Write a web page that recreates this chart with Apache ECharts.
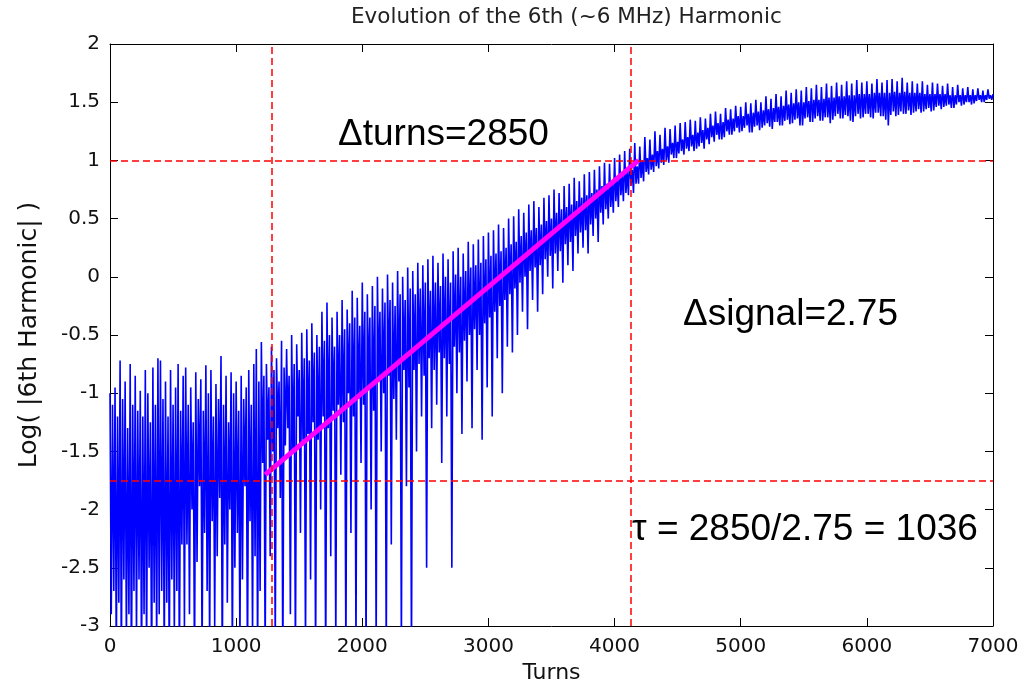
<!DOCTYPE html>
<html>
<head>
<meta charset="utf-8">
<title>Evolution of the 6th (~6 MHz) Harmonic</title>
<script src="https://cdn.jsdelivr.net/npm/echarts@6.0.0/dist/echarts.min.js"></script>
<style>
  html, body { margin: 0; padding: 0; background: #fff; }
  #chart { width: 1028px; height: 681px; }
</style>
</head>
<body>
<div id="chart"></div>
<script>
// Sample spacing of the harmonic record, in turns
const TURN_STEP = 10;

// log10 of the 6th-harmonic amplitude, one value every TURN_STEP turns (0 … 7000)
const harmonicLog = [
  // 0–190
  -1.0, -2.9, -1.1, -2.7, -0.95, -3.3, -1.2, -2.8, -0.72, -3.4, -1.05, -2.6, -0.9, -3.2, -1.3, -2.9, -0.75, -3.5, -1.1, -2.7,
  // 200–390
  -0.85, -3.1, -1.15, -2.6, -0.98, -3.4, -1.2, -2.9, -0.8, -3.3, -1.0, -2.5, -1.25, -3.5, -0.78, -2.8, -1.1, -3.2, -0.7, -2.9,
  // 400–590
  -0.72, -2.7, -1.05, -3.3, -0.9, -2.8, -1.2, -3.4, -0.8, -2.6, -1.1, -3.1, -0.95, -2.7, -0.75, -3.4, -1.15, -2.3, -0.85, -3.0,
  // 600–790
  -0.78, -2.3, -1.1, -2.9, -0.95, -2.0, -1.25, -3.4, -0.82, -2.45, -1.05, -1.8, -0.88, -3.3, -1.15, -2.2, -0.76, -2.7, -1.0, -3.2,
  // 800–990
  -0.8, -2.1, -1.2, -3.0, -0.92, -2.4, -1.05, -1.9, -0.68, -3.4, -1.1, -2.3, -0.85, -2.8, -1.25, -2.0, -0.82, -3.3, -1.0, -2.5,
  // 1000–1190
  -0.9, -2.2, -1.15, -3.2, -0.85, -2.6, -1.05, -1.8, -0.95, -3.4, -0.8, -2.1, -1.1, -3.1, -0.75, -2.4, -0.62, -3.3, -0.9, -2.7,
  // 1200–1390
  -0.56, -1.6, -0.85, -3.3, -0.75, -1.4, -0.95, -2.4, -0.6, -1.5, -0.8, -3.2, -0.7, -1.3, -0.9, -1.9, -0.55, -3.4, -0.78, -1.45,
  // 1400–1590
  -0.62, -1.3, -0.85, -2.9, -0.5, -1.5, -0.75, -3.3, -0.58, -1.2, -0.8, -2.2, -0.48, -1.4, -0.7, -3.2, -0.45, -1.35, -0.72, -2.6,
  // 1600–1790
  -0.4, -1.25, -0.65, -3.3, -0.5, -1.4, -0.6, -2.0, -0.3, -1.2, -0.55, -3.4, -0.22, -1.3, -0.5, -2.4, -0.35, -1.15, -0.6, -3.2,
  // 1800–1990
  -0.3, -1.1, -0.5, -1.7, -0.2, -1.25, -0.45, -3.3, -0.28, -1.0, -0.4, -2.2, -0.12, -1.2, -0.35, -3.2, -0.18, -1.05, -0.42, -1.6,
  // 2000–2190
  -0.05, -1.1, -0.3, -3.3, -0.15, -0.95, -0.35, -2.0, -0.08, -1.15, -0.25, -3.2, 0.0, -0.9, -0.3, -1.5, -0.1, -1.0, -0.22, -3.3,
  // 2200–2390
  0.02, -0.85, -0.2, -2.3, -0.05, -1.05, -0.25, -1.4, 0.05, -0.9, -0.15, -3.2, 0.0, -0.8, -0.2, -1.8, 0.08, -0.95, -0.1, -3.3,
  // 2400–2590
  0.05, -0.8, -0.15, -1.5, 0.12, -0.75, -0.1, -1.2, 0.1, -0.85, -0.05, -2.5, 0.15, -0.7, -0.12, -1.3, 0.18, -0.8, -0.05, -1.1,
  // 2600–2790
  0.12, -0.65, -0.08, -1.6, 0.2, -0.7, 0.0, -1.2, 0.15, -0.75, -0.05, -2.5, 0.22, -0.6, 0.02, -1.0, 0.25, -0.65, 0.0, -1.35,
  // 2800–2990
  0.2, -0.55, 0.05, -0.9, 0.3, -0.5, 0.08, -1.3, 0.28, -0.45, 0.1, -0.8, 0.32, -0.5, 0.12, -1.4, 0.35, -0.4, 0.15, -0.95,
  // 3000–3190
  0.38, -0.35, 0.18, -1.2, 0.4, -0.3, 0.2, -0.7, 0.45, -0.25, 0.22, -1.0, 0.42, -0.2, 0.25, -0.6, 0.5, -0.15, 0.28, -0.65,
  // 3200–3390
  0.52, -0.1, 0.3, -0.5, 0.58, -0.05, 0.35, -0.3, 0.55, 0.0, 0.38, -0.45, 0.62, 0.05, 0.4, -0.2, 0.65, 0.08, 0.42, -0.3,
  // 3400–3590
  0.6, 0.1, 0.45, -0.15, 0.68, 0.15, 0.48, 0.0, 0.7, 0.18, 0.5, -0.1, 0.75, 0.2, 0.55, 0.05, 0.72, 0.22, 0.58, -0.05,
  // 3600–3790
  0.78, 0.28, 0.6, 0.1, 0.8, 0.3, 0.62, 0.05, 0.85, 0.35, 0.65, 0.2, 0.82, 0.38, 0.68, 0.25, 0.88, 0.4, 0.7, 0.2,
  // 3800–3990
  0.9, 0.45, 0.72, 0.35, 0.92, 0.5, 0.75, 0.3, 0.95, 0.55, 0.78, 0.45, 0.98, 0.58, 0.8, 0.5, 0.97, 0.6, 0.82, 0.55,
  // 4000–4190
  1.02, 0.65, 0.85, 0.6, 1.05, 0.7, 0.88, 0.65, 1.08, 0.72, 0.9, 0.7, 1.1, 0.78, 0.92, 0.72, 1.15, 0.8, 0.95, 0.8,
  // 4200–4390
  1.12, 0.85, 1.0, 0.82, 1.2, 0.9, 1.02, 0.88, 1.18, 0.92, 1.05, 0.9, 1.25, 0.95, 1.08, 0.93, 1.22, 0.98, 1.1, 0.96,
  // 4400–4590
  1.28, 1.0, 1.12, 0.98, 1.27, 1.05, 1.15, 1.02, 1.3, 1.02, 1.16, 1.06, 1.32, 1.08, 1.18, 1.05, 1.33, 1.1, 1.2, 1.08,
  // 4600–4790
  1.35, 1.12, 1.22, 1.08, 1.34, 1.1, 1.24, 1.12, 1.37, 1.15, 1.26, 1.1, 1.36, 1.18, 1.28, 1.14, 1.4, 1.2, 1.3, 1.16,
  // 4800–4990
  1.42, 1.22, 1.32, 1.18, 1.4, 1.18, 1.33, 1.2, 1.45, 1.25, 1.35, 1.22, 1.44, 1.22, 1.36, 1.25, 1.47, 1.28, 1.38, 1.24,
  // 5000–5190
  1.46, 1.25, 1.38, 1.28, 1.5, 1.3, 1.4, 1.24, 1.49, 1.24, 1.41, 1.29, 1.52, 1.3, 1.42, 1.26, 1.5, 1.28, 1.43, 1.3,
  // 5200–5390
  1.55, 1.32, 1.44, 1.29, 1.53, 1.27, 1.45, 1.33, 1.57, 1.33, 1.46, 1.3, 1.55, 1.3, 1.47, 1.34, 1.6, 1.35, 1.48, 1.31,
  // 5400–5590
  1.58, 1.32, 1.49, 1.35, 1.61, 1.36, 1.5, 1.3, 1.6, 1.3, 1.5, 1.36, 1.63, 1.37, 1.51, 1.33, 1.62, 1.33, 1.52, 1.36,
  // 5600–5790
  1.65, 1.38, 1.52, 1.34, 1.63, 1.34, 1.53, 1.37, 1.66, 1.37, 1.54, 1.32, 1.64, 1.35, 1.54, 1.38, 1.67, 1.4, 1.55, 1.36,
  // 5800–5990
  1.65, 1.36, 1.55, 1.39, 1.68, 1.38, 1.56, 1.34, 1.66, 1.33, 1.56, 1.38, 1.69, 1.4, 1.57, 1.36, 1.67, 1.37, 1.57, 1.4,
  // 6000–6190
  1.68, 1.4, 1.57, 1.37, 1.66, 1.36, 1.58, 1.41, 1.7, 1.41, 1.58, 1.38, 1.67, 1.38, 1.58, 1.35, 1.69, 1.3, 1.58, 1.39,
  // 6200–6390
  1.7, 1.42, 1.59, 1.38, 1.68, 1.39, 1.58, 1.42, 1.71, 1.4, 1.59, 1.4, 1.67, 1.43, 1.58, 1.39, 1.68, 1.41, 1.58, 1.42,
  // 6400–6590
  1.66, 1.44, 1.58, 1.41, 1.68, 1.42, 1.57, 1.44, 1.65, 1.45, 1.57, 1.42, 1.67, 1.43, 1.57, 1.46, 1.66, 1.47, 1.57, 1.44,
  // 6600–6790
  1.64, 1.46, 1.57, 1.47, 1.66, 1.48, 1.56, 1.45, 1.63, 1.45, 1.56, 1.48, 1.65, 1.5, 1.56, 1.47, 1.62, 1.48, 1.56, 1.5,
  // 6800–6990
  1.63, 1.5, 1.56, 1.48, 1.61, 1.49, 1.56, 1.51, 1.62, 1.52, 1.56, 1.5, 1.6, 1.5, 1.56, 1.52, 1.61, 1.53, 1.56, 1.52,
  // 7000
  1.57
];

// Straight-line fit through the exponential growth phase
const fitTurns = [1230, 4190];
const fitLog = [-1.70, 1.00];

// Reference markers bounding the growth phase
const markerTurns = [1280, 4130];
const markerLog = [1.00, -1.75];

// Axis ticks
const xTicks = [0, 1000, 2000, 3000, 4000, 5000, 6000, 7000];
const yTicks = [-3, -2.5, -2, -1.5, -1, -0.5, 0, 0.5, 1, 1.5, 2];

const turns = harmonicLog.map((_, i) => i * TURN_STEP);
const signalSeries = turns.map((t, i) => [t, harmonicLog[i]]);
const fitSeries = fitTurns.map((t, i) => [t, fitLog[i]]);

const dTurns = markerTurns[1] - markerTurns[0];
const dSignal = markerLog[0] - markerLog[1];
const tau = Math.round(dTurns / dSignal);

const AXIS_FONT = 'DejaVu Sans';
const NOTE_FONT = '"Liberation Sans", Arial, sans-serif';
const TEXT_COLOR = '#111';

const boxAxis = {
  axisLine: { show: true, onZero: false, lineStyle: { color: '#000', width: 1 } },
  axisTick: { show: true, inside: true, length: 8, lineStyle: { color: '#000', width: 1 } },
  splitLine: { show: false }
};

const plainNumber = v => String(v);

const chart = echarts.init(document.getElementById('chart'), null, { renderer: 'canvas' });

chart.setOption({
  animation: false,
  backgroundColor: '#fff',
  title: {
    text: 'Evolution of the 6th (~6 MHz) Harmonic',
    left: 346,
    top: 1,
    textStyle: { fontFamily: AXIS_FONT, fontSize: 21.5, fontWeight: 'normal', color: '#222' }
  },
  grid: { left: 110, right: 35, top: 44, bottom: 55, containLabel: false, outerBoundsMode: 'none' },
  xAxis: [
    Object.assign({}, boxAxis, {
      type: 'value', position: 'bottom',
      min: xTicks[0], max: xTicks[xTicks.length - 1], interval: xTicks[1] - xTicks[0],
      axisLabel: { show: true, margin: 11, color: TEXT_COLOR, fontFamily: AXIS_FONT, fontSize: 20, formatter: plainNumber },
      name: 'Turns', nameLocation: 'middle', nameGap: 36,
      nameTextStyle: { fontFamily: AXIS_FONT, fontSize: 22, color: TEXT_COLOR }
    }),
    Object.assign({}, boxAxis, {
      type: 'value', position: 'top',
      min: xTicks[0], max: xTicks[xTicks.length - 1], interval: xTicks[1] - xTicks[0],
      axisLabel: { show: false }
    })
  ],
  yAxis: [
    Object.assign({}, boxAxis, {
      type: 'value', position: 'left',
      min: yTicks[0], max: yTicks[yTicks.length - 1], interval: yTicks[1] - yTicks[0],
      axisLabel: { show: true, margin: 10, color: TEXT_COLOR, fontFamily: AXIS_FONT, fontSize: 20, formatter: plainNumber },
      name: 'Log( |6th Harmonic| )', nameLocation: 'middle', nameGap: 68,
      nameTextStyle: { fontFamily: AXIS_FONT, fontSize: 25, color: TEXT_COLOR }
    }),
    Object.assign({}, boxAxis, {
      type: 'value', position: 'right',
      min: yTicks[0], max: yTicks[yTicks.length - 1], interval: yTicks[1] - yTicks[0],
      axisLabel: { show: false }
    })
  ],
  series: [
    {
      name: 'harmonic',
      type: 'line',
      xAxisIndex: 0, yAxisIndex: 0,
      data: signalSeries,
      showSymbol: false,
      symbol: 'none',
      sampling: null,
      clip: true,
      silent: true,
      lineStyle: { color: '#0000ff', width: 1.6 },
      z: 2
    },
    {
      name: 'fit',
      type: 'line',
      xAxisIndex: 0, yAxisIndex: 0,
      data: fitSeries,
      showSymbol: false,
      symbol: 'none',
      silent: true,
      lineStyle: { color: '#ff00ff', width: 5, cap: 'butt' },
      z: 3
    },
    {
      name: 'markers',
      type: 'line',
      xAxisIndex: 0, yAxisIndex: 0,
      data: [],
      silent: true,
      z: 4,
      markLine: {
        silent: true,
        symbol: ['none', 'none'],
        label: { show: false },
        animation: false,
        lineStyle: { color: '#ff0000', width: 1.5, type: [7, 4] },
        data: [
          { xAxis: markerTurns[0] },
          { xAxis: markerTurns[1] },
          { yAxis: markerLog[0] },
          { yAxis: markerLog[1] }
        ]
      }
    }
  ],
  graphic: [
    {
      type: 'text', z: 10, silent: true,
      style: {
        text: 'Δturns=' + dTurns,
        x: 338, y: 135,
        font: '37px ' + NOTE_FONT,
        fill: '#000',
        align: 'left', verticalAlign: 'middle',
        textAlign: 'left', textVerticalAlign: 'middle'
      }
    },
    {
      type: 'text', z: 10, silent: true,
      style: {
        text: 'Δsignal=' + dSignal.toFixed(2),
        x: 683, y: 315,
        font: '37px ' + NOTE_FONT,
        fill: '#000',
        align: 'left', verticalAlign: 'middle',
        textAlign: 'left', textVerticalAlign: 'middle'
      }
    },
    {
      type: 'text', z: 10, silent: true,
      style: {
        text: 'τ = ' + dTurns + '/' + dSignal.toFixed(2) + ' = ' + tau,
        x: 632, y: 530,
        font: '37px ' + NOTE_FONT,
        fill: '#000',
        align: 'left', verticalAlign: 'middle',
        textAlign: 'left', textVerticalAlign: 'middle'
      }
    }
  ]
});
</script>
</body>
</html>
